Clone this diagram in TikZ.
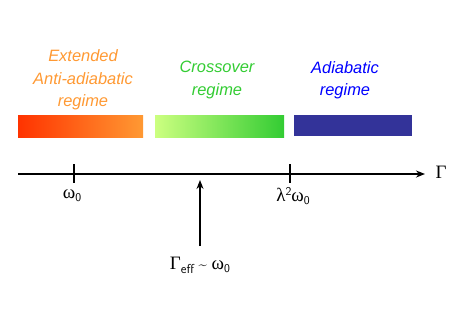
\documentclass[tikz,border=0pt]{standalone}
\usepackage{fontspec}
\setmainfont{Liberation Sans}
\newfontfamily\grk{Liberation Serif}
\usetikzlibrary{arrows.meta}
\definecolor{orng}{HTML}{FF9933}
\definecolor{redo}{HTML}{FF3300}
\definecolor{lgrn}{HTML}{CCFF80}
\definecolor{dgrn}{HTML}{33CC33}
\definecolor{navy}{HTML}{333399}
\definecolor{blu}{HTML}{0000FF}
\newcommand{\subz}{\raisebox{-0.35ex}{\fontsize{12}{14}\selectfont\sffamily 0}}
\begin{document}
\begin{tikzpicture}[x=1bp,y=-1bp,
  lbl/.style={font=\fontsize{16.5}{22.5}\selectfont\itshape, align=center},
  axis/.style={line width=1.6pt},
  tick/.style={line width=1.3pt},
  glab/.style={font=\fontsize{19}{22}\selectfont\grk}]
\useasboundingbox (0,0) rectangle (463,327);
% bars
\shade[left color=redo, right color=orng] (18,115) rectangle (143,137);
\shade[left color=lgrn, right color=dgrn] (155,115) rectangle (284,137);
\fill[navy] (294,115) rectangle (412,136);
% labels
\node[lbl, text=orng] (ext) at (83,80) {Extended\\Anti-adiabatic\\regime};
\node[lbl, text=dgrn] (cro) at (217,80) {Crossover\\regime};
\node[lbl, text=blu] (adi) at (345,80) {Adiabatic\\regime};
% axis
\coordinate (a0) at (18,174);
\coordinate (a1) at (425,174);
\draw[axis, -{Stealth[length=9bp,width=7bp]}] (a0) -- (a1);
\node[glab, anchor=west] (gam) at (432,172) {Γ};
\coordinate (t1a) at (74,164); \coordinate (t1b) at (74,183);
\coordinate (t2a) at (290,164); \coordinate (t2b) at (290,183);
\draw[tick] (t1a) -- (t1b);
\draw[tick] (t2a) -- (t2b);
\node[glab] (w0) at (72,196) {ω\subz};
\node[glab] (lw) at (293,196) {λ\raisebox{0.75ex}{\fontsize{12}{14}\selectfont\sffamily 2}ω\subz};
% arrow
\node[glab] (geff) at (200,265) {Γ\raisebox{-0.45ex}{\fontsize{13}{14}\selectfont\sffamily eff} {\sffamily\fontsize{15}{16}\selectfont\textasciitilde} ω\subz};
\coordinate (up) at (200,180);
\draw[tick, -{Stealth[length=9bp,width=7bp]}] (200,246) -- (up);
\end{tikzpicture}
\end{document}
